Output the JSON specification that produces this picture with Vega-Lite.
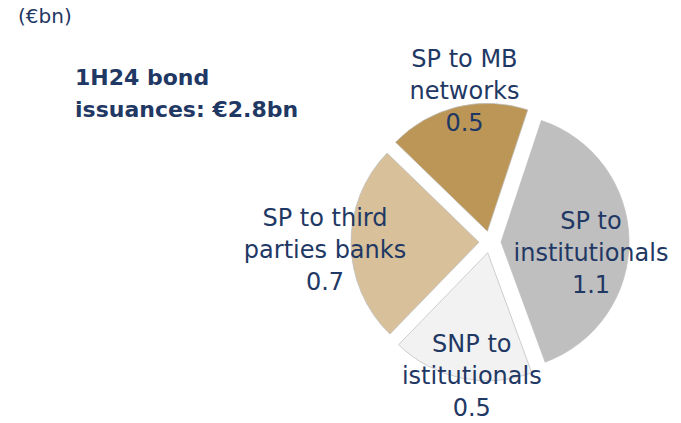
{
  "$schema": "https://vega.github.io/schema/vega-lite/v6.json",
  "padding": {"left": 18, "top": 6, "right": 0, "bottom": 0},
  "background": "white",
  "config": {"view": {"stroke": null}, "font": "DejaVu Sans", "concat": {"spacing": 0}},
  "title": {"text": "(€bn)", "anchor": "start", "frame": "bounds", "dx": -57, "fontSize": 20, "fontWeight": "normal", "color": "#1F3864", "font": "DejaVu Sans", "offset": 21},
  "vconcat": [
    {
      "width": 256,
      "height": 256,
      "title": {"text": ["1H24 bond", "issuances: €2.8bn"], "anchor": "start", "frame": "group", "dx": -287, "fontSize": 22, "fontWeight": "bold", "color": "#1F3864", "font": "DejaVu Sans", "lineHeight": 32, "offset": -74},
      "data": {"values": [
        {"category": "SP to institutionals", "label": "SP to\ninstitutionals", "value": 1.1, "order": 1},
        {"category": "SNP to istitutionals", "label": "SNP to\nistitutionals", "value": 0.5, "order": 2},
        {"category": "SP to third parties banks", "label": "SP to third\nparties banks", "value": 0.7, "order": 3},
        {"category": "SP to MB networks", "label": "SP to MB\nnetworks", "value": 0.5, "order": 4}
      ]},
      "transform": [
        {"stack": "value", "groupby": [], "sort": [{"field": "order", "order": "ascending"}], "as": ["t0", "t1"]},
        {"calculate": "(datum.t0 + datum.t1) / 2", "as": "mid"},
        {"calculate": "datum.label + '\\n' + format(datum.value, '.1f')", "as": "txt"}
      ],
      "layer": [
        {
          "transform": [{"filter": "datum.order == 1"}],
          "layer": [
            {"mark": {"type": "arc", "outerRadius": 128, "stroke": "#BFBFBF", "strokeWidth": 0.75, "xOffset": 11, "yOffset": 0},
             "encoding": {
               "theta": {"field": "t0", "type": "quantitative", "stack": null, "scale": {"domain": [0, 2.8], "range": [0.3211, 6.6043]}},
               "theta2": {"field": "t1"},
               "color": {"field": "category", "type": "nominal", "scale": {"domain": ["SP to institutionals", "SNP to istitutionals", "SP to third parties banks", "SP to MB networks"], "range": ["#BFBFBF", "#F2F2F2", "#D7C09A", "#BC9656"]}, "legend": null}
             }},
            {"mark": {"type": "text", "radius": 101, "dy": -18, "fontSize": 24, "lineBreak": "\n", "lineHeight": 32, "align": "center", "baseline": "middle", "color": "#1F3864"},
             "encoding": {
               "theta": {"field": "mid", "type": "quantitative", "stack": null, "scale": {"domain": [0, 2.8], "range": [0.3211, 6.6043]}},
               "text": {"field": "txt"}
             }}
          ]
        },
        {
          "transform": [{"filter": "datum.order == 2"}],
          "layer": [
            {"mark": {"type": "arc", "outerRadius": 128, "stroke": "#BFBFBF", "strokeWidth": 0.75, "xOffset": -2.3, "yOffset": 10.8},
             "encoding": {
               "theta": {"field": "t0", "type": "quantitative", "stack": null, "scale": {"domain": [0, 2.8], "range": [0.3211, 6.6043]}},
               "theta2": {"field": "t1"},
               "color": {"field": "category", "type": "nominal", "scale": {"domain": ["SP to institutionals", "SNP to istitutionals", "SP to third parties banks", "SP to MB networks"], "range": ["#BFBFBF", "#F2F2F2", "#D7C09A", "#BC9656"]}, "legend": null}
             }},
            {"mark": {"type": "text", "radius": 136, "dx": 10, "dy": -30, "fontSize": 24, "lineBreak": "\n", "lineHeight": 32, "align": "center", "baseline": "middle", "color": "#1F3864"},
             "encoding": {
               "theta": {"field": "mid", "type": "quantitative", "stack": null, "scale": {"domain": [0, 2.8], "range": [0.3211, 6.6043]}},
               "text": {"field": "txt"}
             }}
          ]
        },
        {
          "transform": [{"filter": "datum.order == 3"}],
          "layer": [
            {"mark": {"type": "arc", "outerRadius": 128, "stroke": "#BFBFBF", "strokeWidth": 0.75, "xOffset": -11, "yOffset": 0.2},
             "encoding": {
               "theta": {"field": "t0", "type": "quantitative", "stack": null, "scale": {"domain": [0, 2.8], "range": [0.3211, 6.6043]}},
               "theta2": {"field": "t1"},
               "color": {"field": "category", "type": "nominal", "scale": {"domain": ["SP to institutionals", "SNP to istitutionals", "SP to third parties banks", "SP to MB networks"], "range": ["#BFBFBF", "#F2F2F2", "#D7C09A", "#BC9656"]}, "legend": null}
             }},
            {"mark": {"type": "text", "radius": 165, "dy": -26, "fontSize": 24, "lineBreak": "\n", "lineHeight": 32, "align": "center", "baseline": "middle", "color": "#1F3864"},
             "encoding": {
               "theta": {"field": "mid", "type": "quantitative", "stack": null, "scale": {"domain": [0, 2.8], "range": [0.3211, 6.6043]}},
               "text": {"field": "txt"}
             }}
          ]
        },
        {
          "transform": [{"filter": "datum.order == 4"}],
          "layer": [
            {"mark": {"type": "arc", "outerRadius": 128, "stroke": "#BFBFBF", "strokeWidth": 0.75, "xOffset": -2.6, "yOffset": -10.7},
             "encoding": {
               "theta": {"field": "t0", "type": "quantitative", "stack": null, "scale": {"domain": [0, 2.8], "range": [0.3211, 6.6043]}},
               "theta2": {"field": "t1"},
               "color": {"field": "category", "type": "nominal", "scale": {"domain": ["SP to institutionals", "SNP to istitutionals", "SP to third parties banks", "SP to MB networks"], "range": ["#BFBFBF", "#F2F2F2", "#D7C09A", "#BC9656"]}, "legend": null}
             }},
            {"mark": {"type": "text", "radius": 158, "dx": 12, "dy": -29, "fontSize": 24, "lineBreak": "\n", "lineHeight": 32, "align": "center", "baseline": "middle", "color": "#1F3864"},
             "encoding": {
               "theta": {"field": "mid", "type": "quantitative", "stack": null, "scale": {"domain": [0, 2.8], "range": [0.3211, 6.6043]}},
               "text": {"field": "txt"}
             }}
          ]
        }
      ]
    }
  ]
}
